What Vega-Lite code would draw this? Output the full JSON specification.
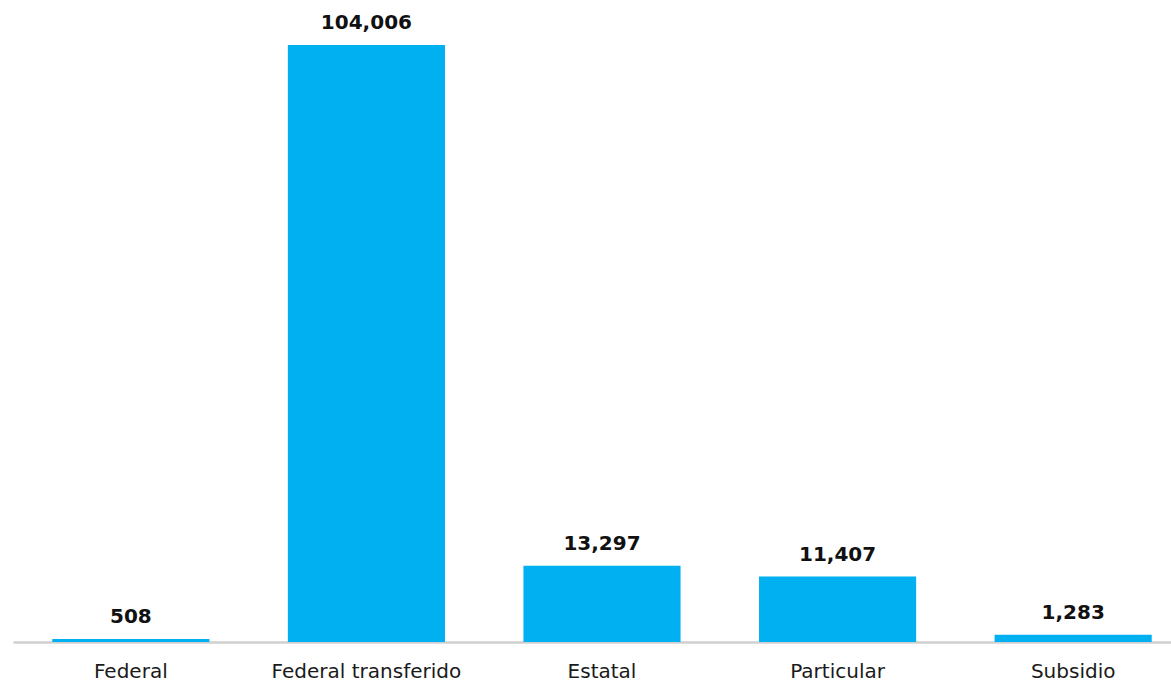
{
  "$schema": "https://vega.github.io/schema/vega-lite/v6.json",
  "width": 1178,
  "height": 642,
  "autosize": {"type": "none"},
  "padding": {"left": 13, "top": 0, "right": 0, "bottom": 39},
  "background": "white",
  "config": {"view": {"stroke": null}, "font": "DejaVu Sans"},
  "data": {
    "values": [
      {"tipo": "Federal", "valor": 508},
      {"tipo": "Federal transferido", "valor": 104006},
      {"tipo": "Estatal", "valor": 13297},
      {"tipo": "Particular", "valor": 11407},
      {"tipo": "Subsidio", "valor": 1283}
    ]
  },
  "encoding": {
    "x": {
      "field": "tipo",
      "type": "nominal",
      "sort": null,
      "scale": {"paddingInner": 0.333, "paddingOuter": 0.1667},
      "axis": {
        "title": null,
        "labelAngle": 0,
        "ticks": false,
        "tickSize": 0,
        "labelPadding": 19,
        "labelLimit": 0,
        "labelFont": "DejaVu Sans",
        "labelFontSize": 20,
        "labelColor": "#1a1a1a",
        "domainColor": "#d0d0d0",
        "domainWidth": 2.5,
        "grid": false
      }
    },
    "y": {
      "field": "valor",
      "type": "quantitative",
      "scale": {"domain": [0, 111846], "nice": false, "zero": true},
      "axis": null
    }
  },
  "layer": [
    {"mark": {"type": "bar", "color": "#00B0F0"}},
    {
      "mark": {
        "type": "text",
        "baseline": "alphabetic",
        "dy": -16,
        "font": "DejaVu Sans",
        "fontSize": 20,
        "fontWeight": "bold",
        "color": "#111111"
      },
      "encoding": {"text": {"field": "valor", "type": "quantitative", "format": ","}}
    }
  ]
}
